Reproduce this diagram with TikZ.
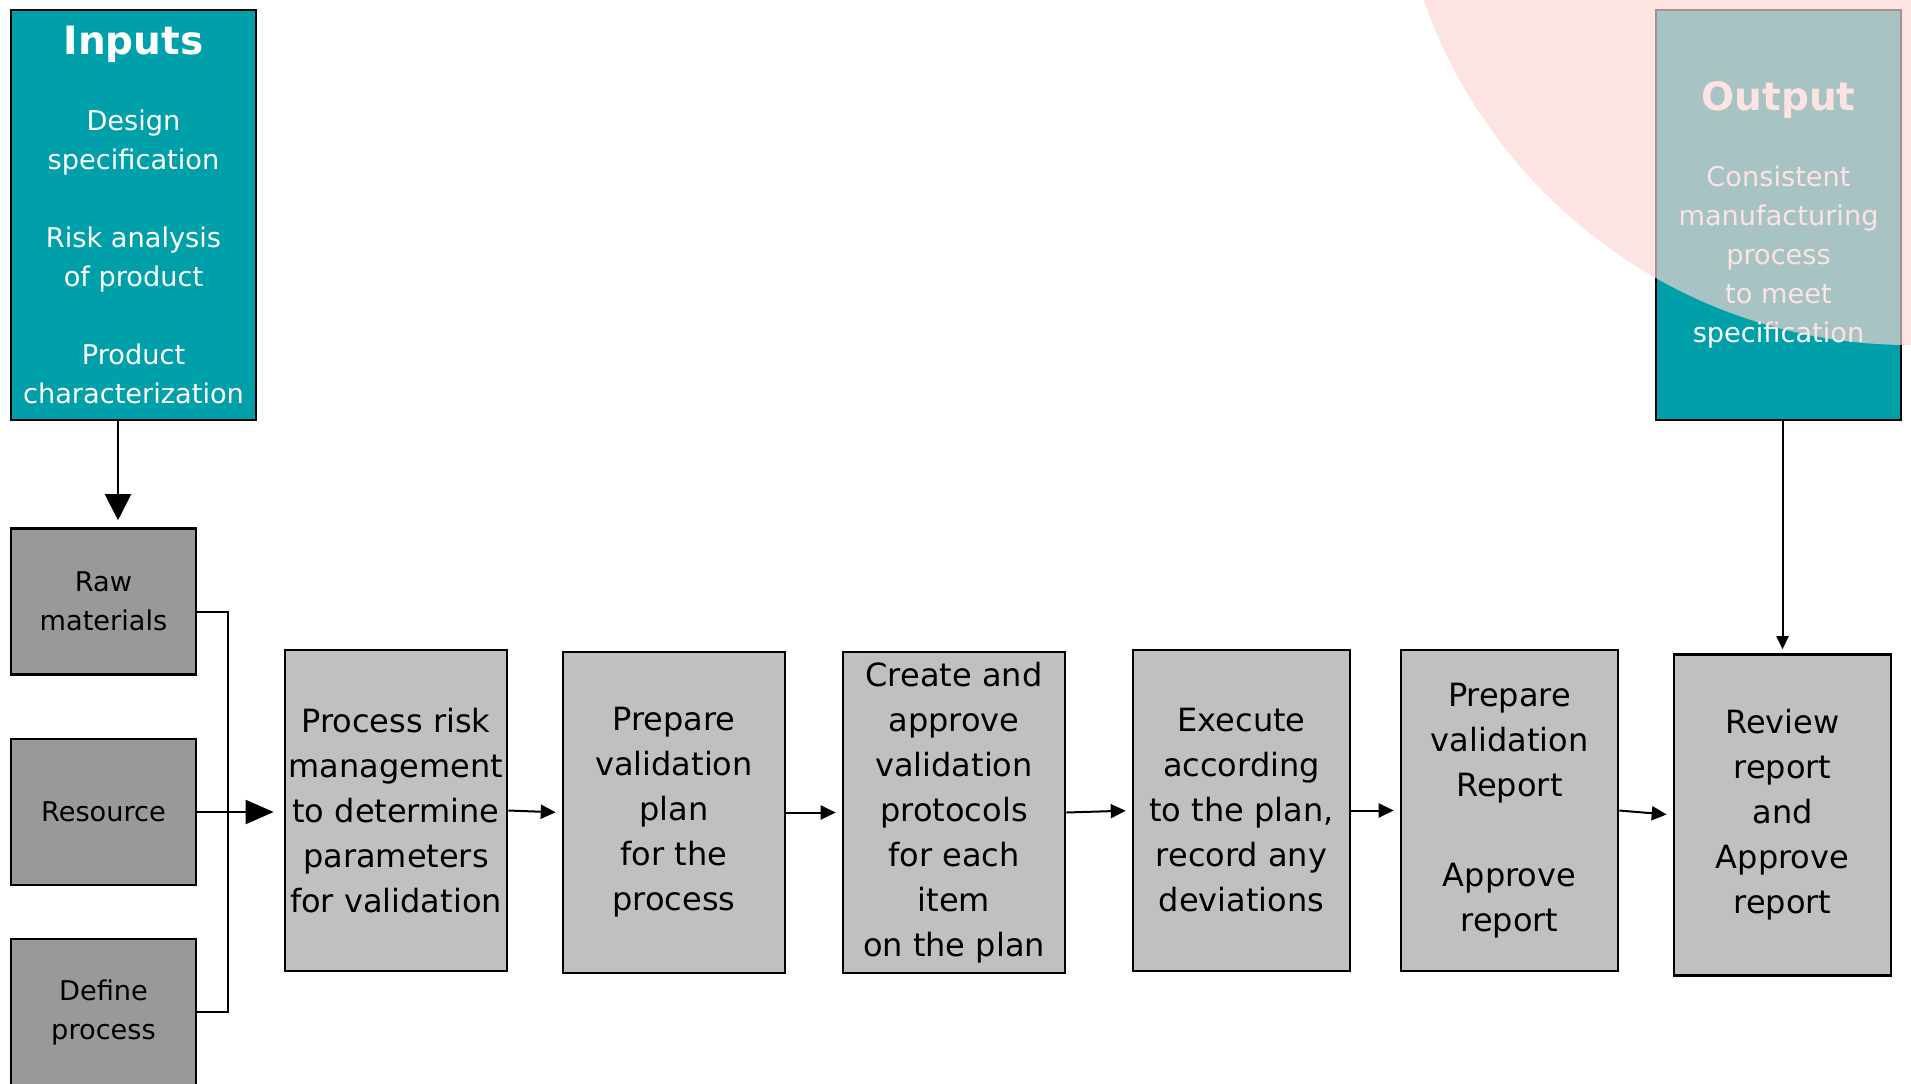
\documentclass[tikz,border=0pt]{standalone}
\usepackage{fontspec}
\setmainfont{DejaVu Sans}
\usepackage[table]{xcolor}
\usepackage{tikz}
\usetikzlibrary{arrows.meta}

\definecolor{tealbox}{HTML}{00A0AA}
\definecolor{darkbox}{HTML}{999999}
\definecolor{lightbox}{HTML}{C0C0C0}
\definecolor{blush}{HTML}{FCD5D2}

\tikzset{
    io/.style={draw=black, line width=1.3pt, fill=tealbox, text=white, align=center,
        minimum width=122.5pt, minimum height=205pt, inner sep=0pt,
        font=\fontsize{13.6}{19.5}\selectfont},
    src/.style={draw=black, line width=1.3pt, fill=darkbox, align=center,
        minimum width=92.5pt, minimum height=73pt, inner sep=0pt,
        font=\fontsize{13.6}{19.5}\selectfont},
    stage/.style={draw=black, line width=1.3pt, fill=lightbox, align=center,
        minimum height=160.5pt, inner sep=0pt,
        font=\fontsize{16}{22.5}\selectfont},
    flow/.style={line width=1pt, -{Triangle[length=7.5pt,width=7pt]}, shorten >=3pt},
}

\begin{document}
\begin{tikzpicture}[x=0.5pt, y=-0.5pt]
    \clip (0,0) rectangle (1911,1083);

    % inputs and sources
    \node[io] (inputs) at (133.5,215) {{\fontsize{19.5}{19.5}\selectfont\bfseries Inputs}\\[18.5pt]
        Design\\ specification\\[19.5pt] Risk analysis\\ of product\\[19.5pt] Product\\ characterization};
    \node[src] (raw) at (103.5,601.5) {Raw\\ materials};
    \node[src] (res) at (103.5,812) {Resource};
    \node[src] (def) at (103.5,1012) {Define\\ process};

    % process chain
    \node[stage, minimum width=111pt] (risk) at (396,810.5) {Process risk\\ management\\ to determine\\ parameters\\ for validation};
    \node[stage, minimum width=111pt] (plan) at (674,812.5) {Prepare\\ validation\\ plan\\ for the\\ process};
    \node[stage, minimum width=111pt] (protocols) at (954,812.5) {Create and\\ approve\\ validation\\ protocols\\ for each\\ item\\ on the plan};
    \node[stage, minimum width=108.5pt] (execute) at (1241.5,810.5) {Execute\\ according\\ to the plan,\\ record any\\ deviations};
    \node[stage, minimum width=108.5pt] (report) at (1509.5,810.5) {Prepare\\ validation\\ Report\\[22.5pt] Approve\\ report};
    \node[stage, minimum width=108.5pt] (review) at (1782.5,815) {Review\\ report\\ and\\ Approve\\ report};

    \node[io] (output) at (1778.5,215) {{\fontsize{19.5}{19.5}\selectfont\bfseries Output}\\[18.5pt]
        Consistent\\ manufacturing\\ process\\ to meet\\ specification};

    % connectors
    \coordinate (bus) at (228,812);
    \draw[line width=1pt] ([yshift=-5pt]raw.east) -| (bus) |- (def.east);
    \draw[line width=1pt, -{Triangle[length=14pt,width=12pt]}, shorten >=5pt] (res.east) -- (res.east -| risk.west);
    \draw[line width=1pt, -{Triangle[length=13pt,width=13pt]}, shorten >=3.5pt]
        ([xshift=-7.75pt]inputs.south) -- ([xshift=7.25pt]raw.north);
    \foreach \a/\b in {risk/plan, plan/protocols, protocols/execute, execute/report, report/review}
        \draw[flow] (\a.east) -- (\b.west);
    \draw[line width=1pt, -{Triangle[length=6.5pt,width=6pt]}, shorten >=2pt] (output.south -| review.north) -- (review.north);

    \fill[blush, opacity=0.667] (1910,-170) circle [radius=257.5pt];
\end{tikzpicture}
\end{document}
